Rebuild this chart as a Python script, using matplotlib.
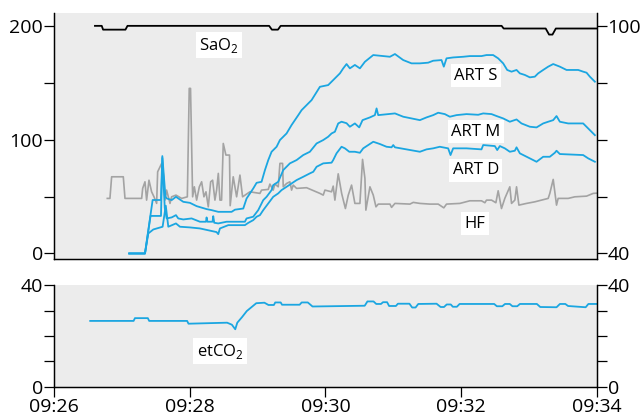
import matplotlib
matplotlib.use("Agg")
import matplotlib.pyplot as plt

# time axis: minutes after 09:26
time_ticks = [0, 2, 4, 6, 8]
time_labels = ["09:26", "09:28", "09:30", "09:32", "09:34"]

# SaO2 (right axis, %)
sao2_t = [0.60, 0.70, 0.72, 1.05, 1.08, 3.17, 3.21, 3.30, 3.34, 6.60, 6.63,
          7.25, 7.30, 7.35, 7.40, 8.0]
sao2_v = [100, 100, 99, 99, 100, 100, 99, 99, 100, 100, 99.3,
          99.3, 97.7, 97.7, 99.3, 99.3]

# arterial pressures (left axis, mmHg)
art_s_t = [1.106, 1.338, 1.451, 1.574, 1.594, 1.64, 1.658, 1.732, 1.795, 1.903,
           2.001, 2.100, 2.247, 2.321, 2.419, 2.616, 2.666, 2.788, 2.837, 2.935,
           2.985, 3.058, 3.108, 3.157, 3.206, 3.280, 3.329, 3.427, 3.501, 3.600,
           3.649, 3.796, 3.919, 4.041, 4.115, 4.214, 4.263, 4.312, 4.361, 4.435,
           4.509, 4.583, 4.706, 4.952, 5.026, 5.148, 5.271, 5.394, 5.516, 5.590,
           5.713, 5.747, 5.787, 5.885, 6.033, 6.131, 6.303, 6.377, 6.475, 6.549,
           6.623, 6.682, 6.746, 6.820, 6.869, 6.943, 7.016, 7.090, 7.139, 7.213,
           7.287, 7.361, 7.459, 7.558, 7.730, 7.803, 7.853, 7.902, 7.976]
art_s_v = [0, 0, 47, 47, 85.6, 50, 48.4, 46.9, 49.8, 45.4,
           44.5, 41.6, 39.0, 38.1, 36.6, 36.6, 38.5, 39.5, 48.3, 57.1,
           62.1, 63.0, 73.3, 82.1, 89.4, 93.8, 99.7, 105.5, 112.9, 121.6,
           126.0, 134.8, 146.5, 148.0, 152.4, 158.3, 162.7, 166.5, 162.7, 165.7,
           162.7, 168.5, 174.4, 172.9, 175.3, 170.0, 167.1, 167.1, 167.7, 169.4,
           170.0, 164.2, 171.5, 172.3, 172.9, 173.5, 173.5, 174.4, 174.4, 171.5,
           167.1, 161.3, 159.8, 161.3, 158.3, 156.9, 154.8, 155.4, 158.3, 161.3,
           164.2, 166.5, 164.2, 161.3, 161.3, 159.8, 158.9, 155.4, 151.0]

art_m_t = [1.106, 1.338, 1.42, 1.574, 1.594, 1.63, 1.658, 1.732, 1.795, 1.829,
           1.903, 2.026, 2.149, 2.238, 2.247, 2.26, 2.335, 2.345, 2.36, 2.419,
           2.542, 2.812, 2.837, 2.935, 3.009, 3.083, 3.132, 3.206, 3.230, 3.304,
           3.378, 3.476, 3.575, 3.673, 3.771, 3.870, 3.968, 4.041, 4.091, 4.140,
           4.189, 4.238, 4.312, 4.361, 4.435, 4.499, 4.548, 4.657, 4.730, 4.755,
           4.779, 5.026, 5.148, 5.394, 5.492, 5.590, 5.664, 5.762, 5.836, 5.934,
           6.082, 6.254, 6.328, 6.451, 6.525, 6.623, 6.721, 6.820, 6.893, 7.016,
           7.115, 7.213, 7.287, 7.361, 7.410, 7.459, 7.582, 7.803, 7.877, 7.976]
art_m_v = [0, 0, 33, 33, 84, 40, 30.8, 31.7, 33.7, 30.8,
           29.9, 30.8, 27.9, 27.9, 31.7, 27.9, 27.9, 32.8, 27.0, 26.4,
           27.9, 27.9, 30.8, 32.3, 38.1, 46.9, 49.8, 55.7, 60.1, 63.0,
           73.3, 79.2, 82.1, 86.5, 89.4, 96.7, 99.7, 102.6, 105.5, 107.0,
           114.3, 115.8, 114.5, 111.4, 114.3, 110.8, 117.2, 119.6, 121.6, 127.5,
           121.6, 123.1, 120.2, 117.2, 119.6, 121.6, 123.7, 122.5, 120.2, 121.6,
           122.5, 121.9, 123.1, 122.5, 120.8, 118.7, 115.8, 117.8, 114.3, 111.4,
           110.8, 114.3, 115.8, 117.2, 120.8, 115.8, 114.3, 114.3, 109.9, 104.0]

art_d_t = [1.106, 1.338, 1.387, 1.461, 1.598, 1.645, 1.682, 1.795, 1.854, 2.001,
           2.149, 2.394, 2.419, 2.444, 2.567, 2.812, 2.862, 2.935, 2.985, 3.034,
           3.083, 3.157, 3.230, 3.304, 3.353, 3.427, 3.575, 3.673, 3.771, 3.821,
           3.870, 3.968, 4.091, 4.115, 4.164, 4.238, 4.288, 4.352, 4.435, 4.509,
           4.558, 4.632, 4.706, 4.804, 4.902, 4.976, 5.001, 5.026, 5.394, 5.492,
           5.590, 5.688, 5.811, 5.846, 5.885, 6.082, 6.303, 6.328, 6.500, 6.535,
           6.574, 6.647, 6.721, 6.795, 6.820, 6.869, 7.016, 7.115, 7.213, 7.311,
           7.385, 7.410, 7.459, 7.803, 7.877, 7.976]
art_d_v = [0, 0, 17.6, 21.1, 23.5, 42, 23.5, 26.4, 23.5, 22.9,
           22.0, 18.8, 17.0, 22.0, 24.9, 24.9, 26.9, 29.3, 32.3, 33.7,
           38.1, 44.0, 49.8, 52.8, 55.7, 58.6, 64.5, 67.4, 70.4, 71.8,
           76.2, 79.2, 79.8, 82.1, 88.0, 93.8, 92.4, 89.4, 89.4, 88.5,
           92.4, 95.3, 98.2, 96.2, 93.8, 93.3, 95.3, 93.3, 89.4, 91.5,
           92.4, 93.8, 92.4, 86.5, 92.4, 92.4, 91.5, 95.3, 94.4, 90.9,
           94.4, 92.4, 89.4, 90.3, 93.3, 88.0, 83.6, 80.6, 85.0, 85.0,
           88.5, 90.3, 87.4, 86.5, 83.6, 80.6]

# heart rate HF (left axis, /min)
hf_t = [0.782, 0.821, 0.846, 1.018, 1.043, 1.289, 1.304, 1.338, 1.362, 1.397,
        1.436, 1.471, 1.510, 1.525, 1.584, 1.608, 1.633, 1.657, 1.707, 1.731,
        1.795, 1.879, 1.963, 1.991, 2.010, 2.041, 2.066, 2.100, 2.140, 2.174,
        2.208, 2.238, 2.272, 2.307, 2.336, 2.370, 2.395, 2.420, 2.444, 2.468,
        2.493, 2.532, 2.585, 2.595, 2.640, 2.690, 2.739, 2.778, 2.886, 3.034,
        3.058, 3.157, 3.181, 3.230, 3.255, 3.304, 3.329, 3.368, 3.378, 3.427,
        3.476, 3.501, 3.525, 3.575, 3.722, 3.919, 3.968, 3.993, 4.091, 4.115,
        4.140, 4.189, 4.240, 4.295, 4.337, 4.386, 4.435, 4.509, 4.548, 4.583,
        4.597, 4.657, 4.706, 4.746, 4.780, 4.952, 4.976, 5.026, 5.247, 5.296,
        5.394, 5.541, 5.664, 5.747, 5.787, 5.984, 6.131, 6.303, 6.353, 6.377,
        6.451, 6.515, 6.549, 6.598, 6.647, 6.721, 6.746, 6.795, 6.820, 6.855,
        6.967, 7.090, 7.287, 7.311, 7.361, 7.410, 7.434, 7.582, 7.680, 7.853,
        7.951, 8.0]
hf_v = [48.4, 48.4, 67.4, 67.4, 48.4, 48.4, 57.2, 63.0, 46.9, 64.4,
        54.2, 49.8, 44.0, 71.8, 79.1, 70.4, 46.9, 55.7, 44.0, 49.8,
        51.3, 48.4, 49.8, 145.1, 145.1, 49.8, 58.6, 46.9, 58.6, 63.0,
        49.8, 54.2, 41.0, 63.0, 64.4, 46.9, 55.7, 70.4, 46.9, 46.9,
        96.7, 86.5, 86.5, 42.0, 67.4, 49.8, 68.9, 49.8, 54.2, 52.8,
        55.7, 56.3, 61.0, 55.7, 61.0, 58.6, 79.2, 79.2, 58.6, 61.5,
        63.0, 55.7, 60.1, 57.2, 57.8, 52.8, 51.3, 55.7, 54.2, 59.2,
        46.9, 70.0, 52.7, 39.5, 51.2, 60.1, 44.0, 44.0, 82.7, 66.0,
        38.1, 58.6, 51.3, 41.0, 43.4, 43.4, 40.5, 44.0, 43.4, 44.9,
        44.0, 43.4, 43.4, 40.1, 43.4, 44.0, 46.3, 46.3, 44.6, 46.9,
        46.9, 44.6, 55.1, 39.5, 48.4, 58.6, 44.0, 46.9, 58.6, 42.5,
        44.0, 45.4, 48.4, 52.8, 65.1, 42.5, 48.4, 48.4, 49.8, 50.4,
        52.8, 53.0]

# etCO2 (mmHg)
etco2_t = [0.53, 1.17, 1.19, 1.38, 1.40, 1.96, 1.98, 2.55, 2.62, 2.67,
           2.70, 2.77, 2.84, 2.98, 3.10, 3.16, 3.24, 3.26, 3.34, 3.36,
           3.62, 3.65, 3.74, 3.81, 4.58, 4.62, 4.71, 4.75, 4.82, 4.85,
           4.91, 4.94, 5.04, 5.07, 5.24, 5.28, 5.33, 5.37, 5.64, 5.70,
           5.75, 5.79, 5.85, 5.88, 5.94, 5.98, 6.49, 6.53, 6.61, 6.65,
           6.72, 6.76, 6.83, 6.87, 7.12, 7.17, 7.41, 7.46, 7.54, 7.58,
           7.84, 7.88, 8.0]
etco2_v = [26.0, 26.0, 27.1, 27.1, 26.0, 26.0, 24.9, 25.3, 24.5, 22.7,
           25.3, 27.5, 29.9, 33.0, 33.2, 32.3, 32.3, 33.3, 33.3, 32.4,
           32.4, 33.3, 33.3, 31.7, 32.0, 33.7, 33.7, 32.7, 32.7, 33.4,
           33.4, 31.9, 31.9, 32.8, 32.8, 31.3, 31.3, 32.7, 32.8, 31.5,
           31.5, 32.5, 32.5, 31.6, 31.6, 32.7, 32.7, 31.8, 31.8, 32.7,
           32.7, 31.8, 31.8, 32.7, 32.7, 31.5, 31.4, 32.7, 32.7, 31.9,
           31.4, 32.7, 32.7]

blue = "#1ba6e1"
grey = "#a3a3a3"
bg = "#ececec"

plt.rcParams["font.family"] = ["Open Sans", "DejaVu Sans"]
plt.rcParams["axes.linewidth"] = 0.9

fig = plt.figure(figsize=(6.41, 4.18), dpi=100)

ax1 = fig.add_axes([0.0847, 0.380, 0.8459, 0.589])
ax1.set_facecolor(bg)
ax1.plot(hf_t, hf_v, color=grey, lw=1.2)
ax1.plot(art_d_t, art_d_v, color=blue, lw=1.3)
ax1.plot(art_m_t, art_m_v, color=blue, lw=1.3)
ax1.plot(art_s_t, art_s_v, color=blue, lw=1.3)
ax1.set_xlim(0, 8)
ax1.set_ylim(-5, 211.4)
ax1.set_yticks([0, 50, 100, 150, 200])
ax1.set_yticklabels(["0", "", "100", "", "200"])
ax1.set_xticks([])
ax1.spines["top"].set_visible(False)
ax1.tick_params(axis="y", direction="out", length=7, width=0.9, labelsize=14, pad=1)

ax1r = ax1.twinx()
ax1r.plot(sao2_t, sao2_v, color="black", lw=1.3)
ax1r.set_ylim(38.5, 103.4)
ax1r.set_yticks([40, 55, 70, 85, 100])
ax1r.set_yticklabels(["40", "", "", "", "100"])
ax1r.spines["top"].set_visible(False)
ax1r.tick_params(axis="y", direction="out", length=7, width=0.9, labelsize=14, pad=1)

box = dict(facecolor="white", edgecolor="none", pad=2.5)
labels = [("SaO$_\\mathregular{2}$", 2.43, 183), ("ART S", 6.22, 156),
          ("ART M", 6.22, 107), ("ART D", 6.22, 73), ("HF", 6.21, 26)]
for txt, tx, ty in labels:
    ax1.text(tx, ty, txt, fontsize=12, ha="center", va="center", bbox=box)

ax2 = fig.add_axes([0.0847, 0.0749, 0.8459, 0.2433])
ax2.set_facecolor(bg)
ax2.plot(etco2_t, etco2_v, color=blue, lw=1.3)
ax2.set_xlim(0, 8)
ax2.set_ylim(0, 40.2)
ax2.set_yticks([0, 10, 20, 30, 40])
ax2.set_yticklabels(["0", "", "", "", "40"])
ax2.set_xticks(time_ticks)
ax2.set_xticklabels(time_labels)
ax2.spines["top"].set_visible(False)
ax2.tick_params(axis="both", direction="out", length=7, width=0.9, labelsize=14, pad=1)
ax2.text(2.45, 14, "etCO$_\\mathregular{2}$", fontsize=12, ha="center", va="center", bbox=box)

ax2r = ax2.twinx()
ax2r.set_ylim(0, 40.2)
ax2r.set_yticks([0, 10, 20, 30, 40])
ax2r.set_yticklabels(["0", "", "", "", "40"])
ax2r.spines["top"].set_visible(False)
ax2r.tick_params(axis="y", direction="out", length=7, width=0.9, labelsize=14, pad=1)

fig.savefig("out.png", dpi=100)
